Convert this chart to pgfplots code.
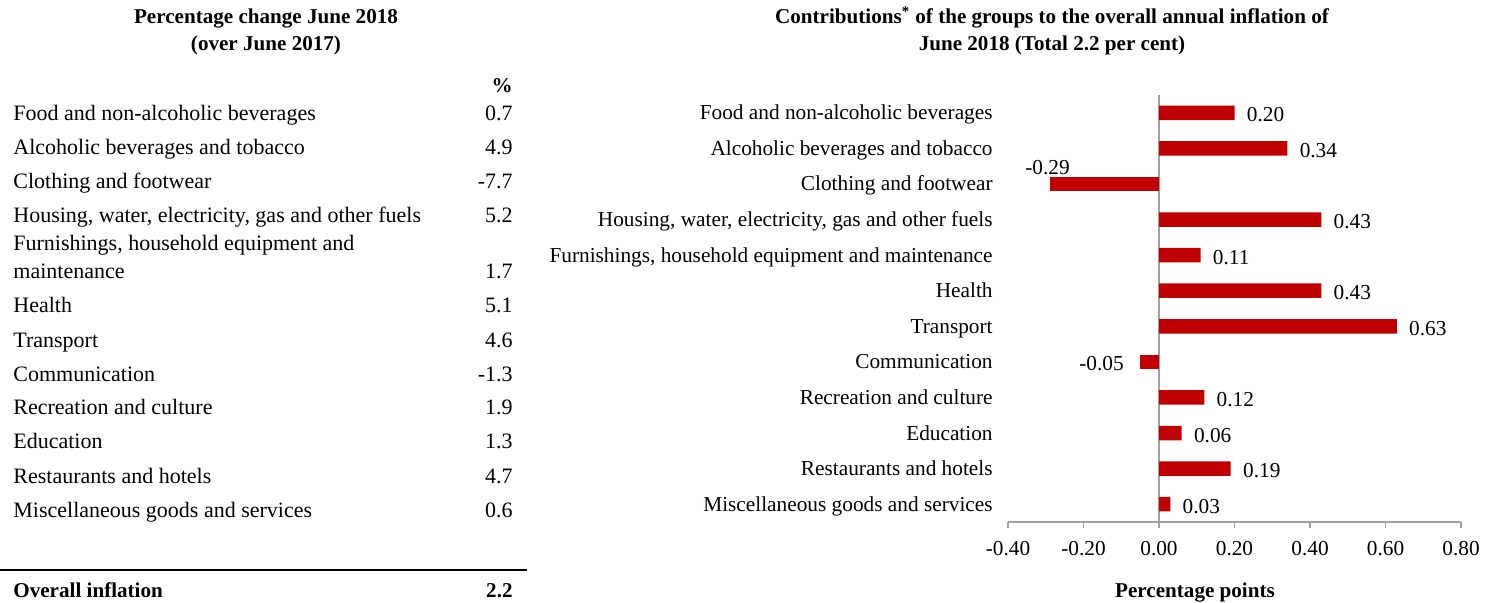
\documentclass[border=0pt]{standalone}
\usepackage{fontspec}
\setmainfont{Liberation Serif}
\usepackage{pgfplots}
\pgfplotsset{compat=1.18}
\definecolor{barred}{HTML}{C00000}
\definecolor{axgray}{HTML}{A0A0A0}
\newcommand{\tf}{\fontsize{11}{13}\selectfont}
\newcommand{\cf}{\fontsize{10.65}{12.5}\selectfont}
\newcommand{\hf}{\bfseries\fontsize{10.55}{13}\selectfont}
\begin{document}
\begin{tikzpicture}[
  tl/.style={anchor=west, inner sep=0pt, font=\tf, text height=0.72em, text depth=0.22em},
  tv/.style={anchor=east, inner sep=0pt, font=\tf, text height=0.72em, text depth=0.22em},
  hd/.style={inner sep=0pt, font=\hf, text height=0.72em, text depth=0.22em}]
\begin{scope}[x=0.5pt,y=-0.5pt]
\useasboundingbox (0,0) rectangle (1493,603);
% ---------- left table ----------
\node[hd] at (266,19) {Percentage change June 2018};
\node[hd] at (266,46) {(over June 2017)};
\node[hd,anchor=east] at (513,88) {\%};
\foreach \yy/\lab/\val in {
  116/{Food and non-alcoholic beverages}/0.7,
  150/{Alcoholic beverages and tobacco}/4.9,
  184/{Clothing and footwear}/-7.7,
  218/{Housing, water, electricity, gas and other fuels}/5.2,
  274/{maintenance}/1.7,
  308/{Health}/5.1,
  343/{Transport}/4.6,
  377/{Communication}/-1.3,
  410/{Recreation and culture}/1.9,
  444/{Education}/1.3,
  479/{Restaurants and hotels}/4.7,
  513/{Miscellaneous goods and services}/0.6}{
  \node[tl] at (13,\yy) {\lab};
  \node[tv] at (513,\yy) {\val};
}
\node[tl] at (13,246) {Furnishings, household equipment and};
\draw[line width=1pt] (0,570) -- (527,570);
\node[hd,anchor=west] at (13,592) {Overall inflation};
\node[hd,anchor=east] at (513,592) {2.2};
% ---------- right chart titles ----------
\node[hd] at (1052,19) {Contributions\textsuperscript{*} of the groups to the overall annual inflation of};
\node[hd] at (1052,46) {June 2018 (Total 2.2 per cent)};
\node[hd] at (1195,592) {Percentage points};
\end{scope}
\begin{axis}[at={(504pt,-261pt)}, anchor=south west, scale only axis,
  width=226.5pt, height=213.5pt,
  xmin=-0.4, xmax=0.8, ymin=-0.5, ymax=11.5,
  xbar, bar width=7.25pt, bar shift=0pt,
  axis x line*=bottom, axis y line*=left,
  y axis line style={draw=none},
  x axis line style={axgray, line width=0.9pt},
  tick align=outside, major tick length=3pt,
  xtick style={axgray, line width=0.9pt},
  ytick style={draw=none},
  xtick={-0.4,-0.2,0,0.2,0.4,0.6,0.8},
  xticklabels={-0.40,-0.20,0.00,0.20,0.40,0.60,0.80},
  xticklabel style={font=\cf, inner sep=0pt, anchor=north, text height=0.68em, text depth=0pt, yshift=-6.75pt},
  ytick={0,...,11},
  yticklabels={Miscellaneous goods and services, Restaurants and hotels, Education,
    Recreation and culture, Communication, Transport, Health,
    {Furnishings, household equipment and maintenance},
    {Housing, water, electricity, gas and other fuels},
    Clothing and footwear, Alcoholic beverages and tobacco,
    Food and non-alcoholic beverages},
  yticklabel style={font=\cf, inner sep=0pt, anchor=east, text height=0.72em, text depth=0.22em, xshift=-4.5pt, yshift=-1pt},
  /pgf/number format/assume math mode=true,
  point meta=x,
  nodes near coords={\pgfmathprintnumber[fixed,fixed zerofill,precision=2,assume math mode=true]{\pgfplotspointmeta}},
  clip=false,
]
\draw[axgray, line width=0.9pt] (axis cs:0,-0.5) -- (axis cs:0,11.5);
\addplot[fill=barred, draw=none,
  every node near coord/.style={anchor=west, inner sep=0pt, xshift=6pt, yshift=-1.2pt, font=\cf, text height=0.68em, text depth=0pt, black}]
  coordinates {(0.20,11) (0.34,10) (0.43,8) (0.11,7) (0.43,6) (0.63,5) (0.12,3) (0.06,2) (0.19,1) (0.03,0)};
\addplot[fill=barred, draw=none,
  every node near coord/.style={anchor=base, inner sep=0pt, yshift=4.5pt, xshift=-1pt, font=\cf, black}]
  coordinates {(-0.29,9)};
\addplot[fill=barred, draw=none,
  every node near coord/.style={anchor=east, inner sep=0pt, xshift=-8pt, yshift=-1pt, font=\cf, text height=0.68em, text depth=0pt, black}]
  coordinates {(-0.05,4)};
\end{axis}
\end{tikzpicture}
\end{document}
